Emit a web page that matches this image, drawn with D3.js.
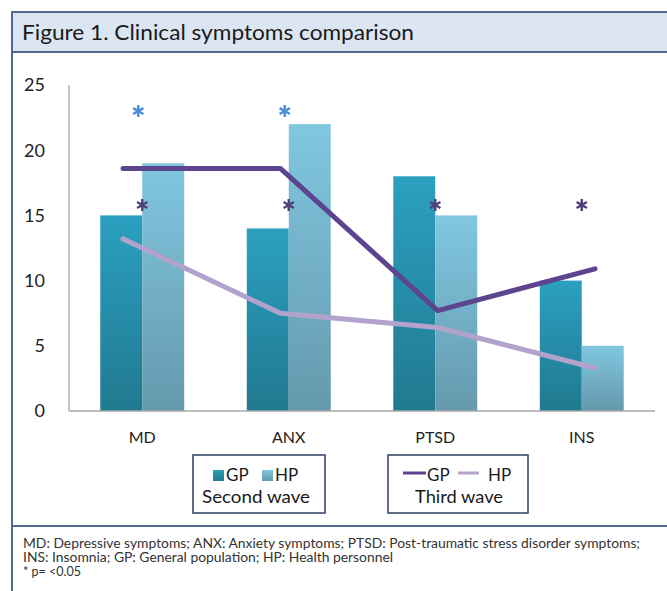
<!DOCTYPE html>
<html><head><meta charset="utf-8">
<script src="https://cdn.jsdelivr.net/npm/d3@7"></script>
<style>body{margin:0;background:#fff}svg{display:block}text{font-family:Lato,"Open Sans",sans-serif}</style>
</head><body><svg id="c" width="667" height="591"></svg>
<script>
const categories = ["MD","ANX","PTSD","INS"];
const secondGP = [15,14,18,10];
const secondHP = [19,22,15,5];
const thirdGP = [18.6,18.6,7.7,10.9];
const thirdHP = [13.2,7.5,6.4,3.3];
const sigSecond = [true,true,false,false];
const sigThird = [true,true,true,true];
const yTicks = [0,5,10,15,20,25];
const footer = ["MD: Depressive symptoms; ANX: Anxiety symptoms; PTSD: Post-traumatic stress disorder symptoms;",
  "INS: Insomnia; GP: General population; HP: Health personnel","* p= <0.05"];

const svg = d3.select("#c");
const defs = svg.append("defs");
function grad(id, top, bot){
  const g = defs.append("linearGradient").attr("id",id).attr("x1",0).attr("y1",0).attr("x2",0).attr("y2",1);
  g.append("stop").attr("offset","0%").attr("stop-color",top);
  g.append("stop").attr("offset","100%").attr("stop-color",bot);
}
grad("gGP","#2ba0c0","#217990");
grad("gHP","#80c7e0","#6599ad");

// frame
svg.append("rect").attr("x",12).attr("y",12).attr("width",660).attr("height",40).attr("fill","#dce6f2");
const frame = "#4e6a91";
svg.append("line").attr("x1",12).attr("x2",667).attr("y1",12).attr("y2",12).attr("stroke",frame).attr("stroke-width",2);
svg.append("line").attr("x1",12).attr("x2",667).attr("y1",52).attr("y2",52).attr("stroke",frame).attr("stroke-width",2);
svg.append("line").attr("x1",12).attr("x2",667).attr("y1",526).attr("y2",526).attr("stroke",frame).attr("stroke-width",2);
svg.append("line").attr("x1",12).attr("x2",12).attr("y1",11).attr("y2",591).attr("stroke",frame).attr("stroke-width",2);
svg.append("text").attr("x",22).attr("y",40).attr("font-size",21).attr("fill","#1a1a1a")
  .attr("textLength",392).attr("lengthAdjust","spacingAndGlyphs").text("Figure 1. Clinical symptoms comparison");

// scales
const y = d3.scaleLinear().domain([0,25]).range([411,85]);
const x = d3.scaleBand().domain(categories).range([69,655]).paddingInner(0.427).paddingOuter(0.2135);
const xl = d3.scalePoint().domain(categories).range([123,595]);

// y axis labels
svg.append("g").selectAll("text").data(yTicks).join("text")
  .attr("x",45).attr("y",d=>y(d)).attr("dy","0.35em").attr("text-anchor","end")
  .attr("font-size",18).attr("fill","#222").text(d=>d);
svg.append("line").attr("x1",69).attr("x2",69).attr("y1",y(25)).attr("y2",y(0)).attr("stroke","#b0b0b0").attr("stroke-width",1.5);

// bars
const bw = x.bandwidth()/2;
const bars = svg.append("g");
bars.selectAll(".gp").data(categories).join("rect")
  .attr("x",d=>x(d)).attr("width",bw).attr("y",(d,i)=>y(secondGP[i])).attr("height",(d,i)=>y(0)-y(secondGP[i])).attr("fill","url(#gGP)");
bars.selectAll(".hp").data(categories).join("rect")
  .attr("x",d=>x(d)+bw).attr("width",bw).attr("y",(d,i)=>y(secondHP[i])).attr("height",(d,i)=>y(0)-y(secondHP[i])).attr("fill","url(#gHP)");

// baseline
svg.append("line").attr("x1",69).attr("x2",655).attr("y1",y(0)).attr("y2",y(0)).attr("stroke","#a8a8a8").attr("stroke-width",1.5);

// category labels
svg.append("g").selectAll("text").data(categories).join("text")
  .attr("x",d=>x(d)+bw).attr("y",437).attr("dy","0.35em").attr("text-anchor","middle")
  .attr("font-size",16).attr("fill","#222").text(d=>d);

// lines
const line = d3.line().x((d,i)=>xl(categories[i])).y(d=>y(d));
svg.append("path").datum(thirdHP).attr("d",line).attr("fill","none").attr("stroke","#b1a3cb").attr("stroke-width",5).attr("stroke-linecap","round").attr("stroke-linejoin","round");
svg.append("path").datum(thirdGP).attr("d",line).attr("fill","none").attr("stroke","#5c448f").attr("stroke-width",5).attr("stroke-linecap","round").attr("stroke-linejoin","round");

// asterisks
const ast = d3.symbol().type(d3.symbolAsterisk).size(100);
svg.append("g").selectAll("path").data(categories.filter((d,i)=>sigSecond[i])).join("path")
  .attr("d",ast).attr("transform",d=>`translate(${x(d)+bw-4},${y(23.0)})`)
  .attr("fill","none").attr("stroke","#4a8fd8").attr("stroke-width",2.4);
svg.append("g").selectAll("path").data(categories.filter((d,i)=>sigThird[i])).join("path")
  .attr("d",ast).attr("transform",d=>`translate(${x(d)+bw},${y(15.8)})`)
  .attr("fill","none").attr("stroke","#4f3f78").attr("stroke-width",2.4);

// legends
const lb = "#2d3f60";
svg.append("rect").attr("x",193).attr("y",455).attr("width",132).attr("height",58).attr("fill","#fff").attr("stroke",lb).attr("stroke-width",1.5);
svg.append("rect").attr("x",388).attr("y",455).attr("width",140).attr("height",58).attr("fill","#fff").attr("stroke",lb).attr("stroke-width",1.5);
svg.append("rect").attr("x",213).attr("y",470).attr("width",11).attr("height",11).attr("fill","url(#gGP)");
svg.append("text").attr("x",226).attr("y",481).attr("font-size",17).attr("fill","#1a1a1a").text("GP");
svg.append("rect").attr("x",262).attr("y",470).attr("width",11).attr("height",11).attr("fill","url(#gHP)");
svg.append("text").attr("x",275).attr("y",481).attr("font-size",17).attr("fill","#1a1a1a").text("HP");
svg.append("text").attr("x",256).attr("y",503).attr("text-anchor","middle").attr("font-size",17).attr("fill","#1a1a1a")
  .attr("textLength",108).attr("lengthAdjust","spacingAndGlyphs").text("Second wave");
svg.append("line").attr("x1",403).attr("x2",426).attr("y1",473).attr("y2",473).attr("stroke","#5c448f").attr("stroke-width",3);
svg.append("text").attr("x",427).attr("y",481).attr("font-size",17).attr("fill","#1a1a1a").text("GP");
svg.append("line").attr("x1",458).attr("x2",479).attr("y1",473).attr("y2",473).attr("stroke","#b1a3cb").attr("stroke-width",3);
svg.append("text").attr("x",488).attr("y",481).attr("font-size",17).attr("fill","#1a1a1a").text("HP");
svg.append("text").attr("x",459).attr("y",503).attr("text-anchor","middle").attr("font-size",17).attr("fill","#1a1a1a")
  .attr("textLength",88).attr("lengthAdjust","spacingAndGlyphs").text("Third wave");

// footer
const fl = [617, 370, null];
svg.append("g").selectAll("text").data(footer).join("text")
  .attr("x",23).attr("y",(d,i)=>548+i*14).attr("font-size",12.5).attr("fill","#333")
  .each(function(d,i){ if(fl[i]) d3.select(this).attr("textLength",fl[i]).attr("lengthAdjust","spacingAndGlyphs"); })
  .text(d=>d);
</script></body></html>
